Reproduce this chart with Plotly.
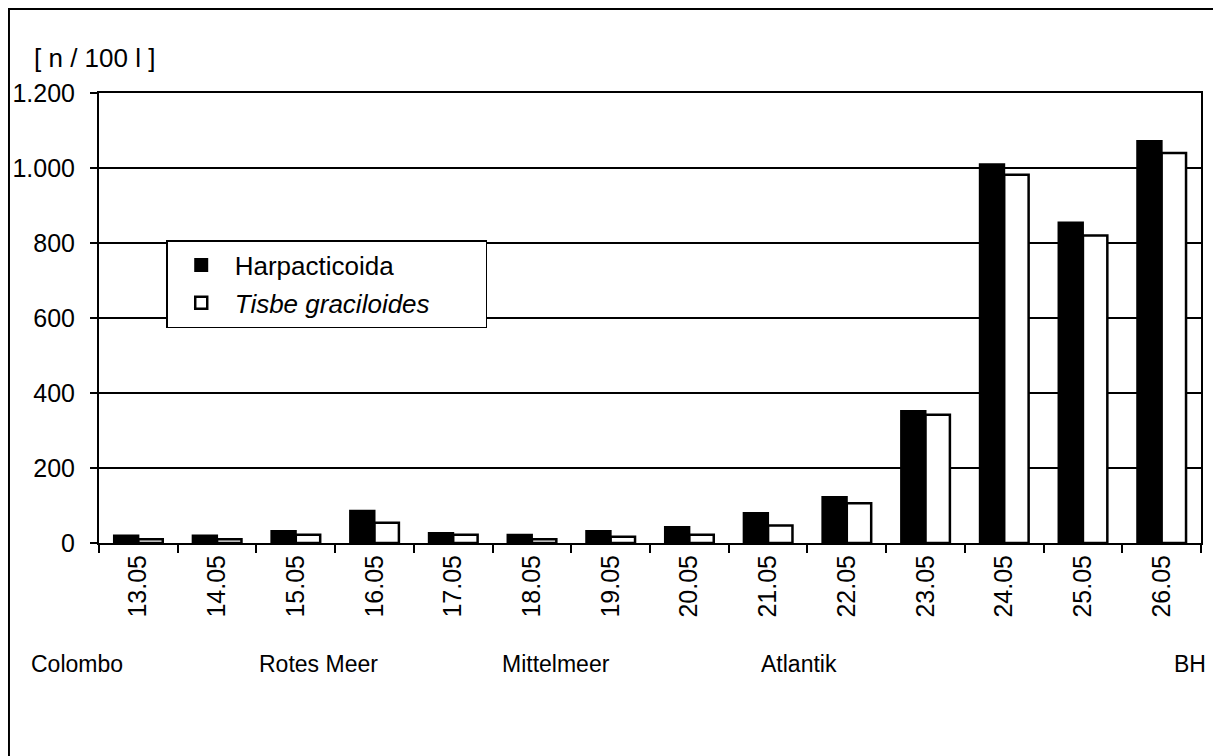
import plotly.graph_objects as go

# Daten
tage = ["13.05", "14.05", "15.05", "16.05", "17.05", "18.05", "19.05",
        "20.05", "21.05", "22.05", "23.05", "24.05", "25.05", "26.05"]
harpacticoida = [20, 20, 32, 86, 27, 22, 32, 43, 80, 123, 352, 1010, 855, 1072]
tisbe = [10, 10, 22, 54, 22, 10, 17, 22, 47, 106, 342, 982, 820, 1040]
regionen = ["Colombo", "Rotes Meer", "Mittelmeer", "Atlantik", "BH"]
regionen_x = [-0.020, 0.199, 0.415, 0.635, 0.990]

arial = "Arial, Liberation Sans, sans-serif"
schrift = dict(family=arial, size=25, color="black")
legende = dict(family=arial, size=26, color="black")
regionschrift = dict(family=arial, size=23, color="black")

fig = go.Figure()
fig.add_trace(go.Bar(x=tage, y=harpacticoida, name="Harpacticoida", legendgroup="a",
                     marker=dict(color="black", line=dict(color="black", width=2))))
fig.add_trace(go.Bar(x=tage, y=tisbe, name="<i>Tisbe graciloides</i>" + "&nbsp;" * 7,
                     legendgroup="b",
                     marker=dict(color="white", line=dict(color="black", width=2.5))))

# Seite hat 8px Rand -> Ränder entsprechend verschoben
fig.update_layout(
    width=1221, height=756,
    margin=dict(l=91, r=28, t=85, b=221, autoexpand=False),
    paper_bgcolor="white", plot_bgcolor="white",
    font=schrift,
    separators=",.",
    barmode="group", bargap=0.38, bargroupgap=0,
    showlegend=True,
    legend=dict(x=0.061, y=0.673, xanchor="left", yanchor="top",
                bgcolor="white", bordercolor="black", borderwidth=1.5,
                font=legende, itemwidth=57, tracegroupgap=1),
)
fig.update_xaxes(type="category", showline=True, linecolor="black", linewidth=2,
                 mirror=True, ticks="outside", tickson="boundaries", ticklen=8,
                 tickwidth=1.5, tickcolor="black", tickangle=-90, tickfont=schrift,
                 showgrid=False, automargin=False)
fig.update_yaxes(range=[0, 1200], dtick=200, tickformat=",d", showline=True,
                 linecolor="black", linewidth=2, mirror=True, ticks="outside",
                 ticklen=7, tickwidth=1.5, tickcolor="black", showgrid=True,
                 gridcolor="black", gridwidth=1.5, zeroline=False, tickfont=schrift,
                 ticklabelstandoff=10, automargin=False)

fig.add_annotation(text="[ n / 100 l ]", xref="paper", yref="paper", x=-0.061, y=1.078,
                   xanchor="left", yanchor="middle", showarrow=False, font=legende)
for name, px in zip(regionen, regionen_x):
    fig.add_annotation(text=name, xref="paper", yref="paper", x=px, y=-0.269,
                       xanchor="center", yanchor="middle", showarrow=False,
                       font=regionschrift)

# Rahmen um das Diagramm
fig.add_shape(type="rect", xref="paper", yref="paper", x0=-0.0817, x1=1.06,
              y0=-0.55, y1=1.1867, line=dict(color="black", width=2))

fig.write_html("out.html")
